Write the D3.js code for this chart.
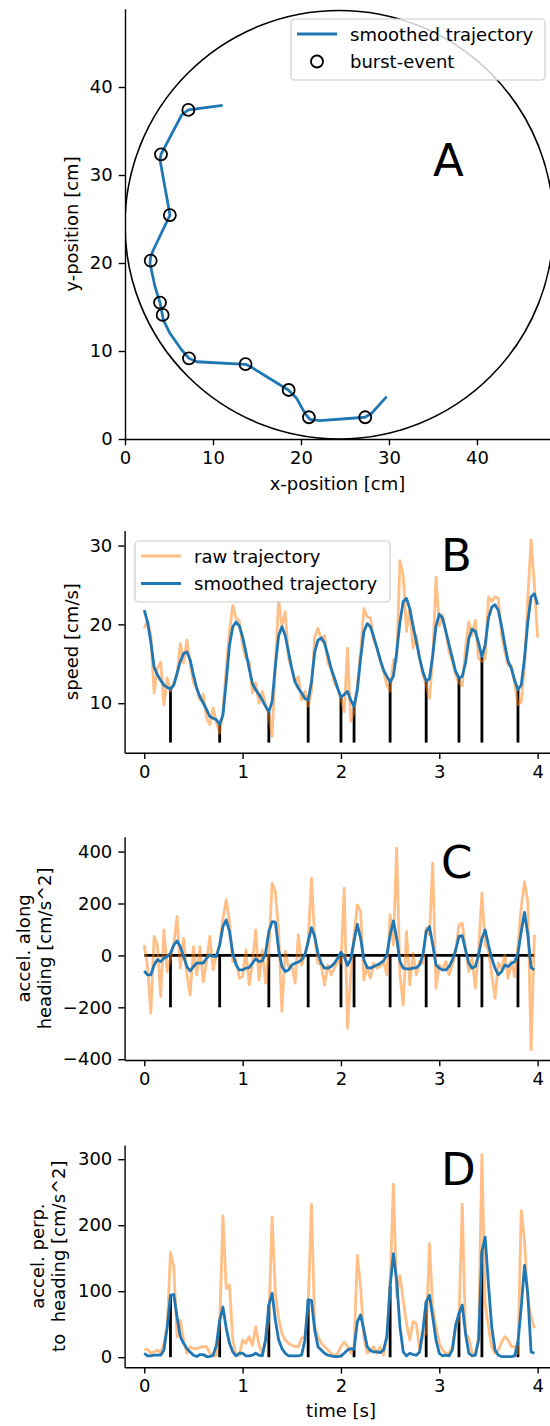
<!DOCTYPE html>
<html>
<head>
<meta charset="utf-8">
<script src="https://cdn.jsdelivr.net/npm/d3@7"></script>
<style>
  body { margin: 0; background: #fff; }
  svg text { font-family: "DejaVu Sans", sans-serif; }
</style>
</head>
<body>
<svg id="fig" width="550" height="1426"></svg>
<script>
// ---- data ----
// panel A: smoothed trajectory in the arena [cm]
var trajX = [11.10, 7.20, 6.44, 4.09, 3.98, 5.11, 3.22, 2.92, 2.84, 3.41, 3.98, 4.36, 5.11, 6.44, 7.27, 8.15, 13.71, 14.58, 18.56, 19.51, 20.45, 21.02, 22.16, 27.27, 28.03, 29.74];
var trajY = [37.92, 37.39, 36.82, 32.35, 31.70, 25.45, 21.48, 20.72, 19.97, 17.31, 15.49, 13.52, 12.01, 10.11, 9.17, 8.78, 8.49, 8.03, 5.57, 4.62, 2.92, 2.24, 2.08, 2.47, 2.92, 4.81];
var burstX = [7.2, 4.09, 5.1, 2.92, 3.98, 4.28, 7.27, 13.7, 18.6, 20.9, 27.3];
var burstY = [37.4, 32.35, 25.45, 20.26, 15.5, 14.1, 9.17, 8.5, 5.57, 2.47, 2.47];
var arena = {cx: 24.35, cy: 24.35, r: 24.35};

// time series, sampled at 30 frames/s
var fps = 30;
var burstFrames = [8, 23, 38, 50, 60, 64, 75, 86, 96, 103, 114];

var speedRaw = [19.5, 20.5, 18.6, 11.3, 14.4, 15.2, 9.8, 13.2, 11.5, 12.6,
  13.6, 17.6, 15.1, 18.0, 15.1, 12.6, 11.9, 10.4, 11.1, 8.1,
  7.3, 9.4, 7.5, 6.2, 8.9, 14.4, 19.1, 22.4, 20.8, 20.4,
  17.4, 15.7, 15.3, 11.3, 12.6, 10.0, 11.5, 9.8, 8.5, 5.8,
  14.8, 23.1, 19.8, 21.6, 15.7, 14.4, 12.6, 13.4, 10.4, 11.5,
  9.6, 11.5, 18.4, 19.5, 18.0, 18.6, 15.1, 14.4, 12.6, 11.9,
  10.6, 8.9, 17.0, 7.7, 8.9, 12.3, 16.5, 22.0, 21.0, 20.8,
  18.0, 17.0, 15.3, 14.0, 12.3, 11.5, 15.5, 15.3, 28.1, 26.2,
  19.1, 22.0, 17.0, 18.6, 15.7, 13.6, 12.3, 10.6, 15.7, 26.0,
  19.8, 21.2, 19.1, 16.5, 15.3, 13.6, 12.6, 12.2, 17.0, 20.3,
  18.6, 20.5, 15.7, 15.3, 15.7, 23.5, 22.9, 23.5, 23.3, 18.6,
  16.5, 14.8, 14.8, 12.6, 9.8, 10.2, 14.8, 23.3, 30.7, 25.0, 18.3];
var speedSmooth = [21.8, 20.3, 17.8, 14.6, 13.6, 12.9, 12.3, 12.0, 11.8, 12.3,
  13.8, 15.3, 16.3, 16.5, 15.5, 13.6, 11.9, 10.8, 10.0, 9.2,
  8.3, 8.1, 7.9, 7.3, 8.5, 12.7, 17.4, 19.7, 20.3, 19.8,
  18.4, 16.5, 14.4, 12.5, 11.7, 11.1, 10.4, 9.6, 8.9, 10.2,
  14.8, 18.6, 19.7, 18.6, 16.5, 14.4, 12.7, 11.9, 11.3, 10.6,
  10.4, 12.7, 16.5, 18.0, 18.3, 17.6, 16.1, 14.4, 13.2, 11.9,
  10.8, 11.1, 11.5, 10.4, 9.6, 11.7, 15.7, 19.1, 20.1, 19.7,
  18.4, 17.0, 15.5, 14.2, 13.4, 12.7, 13.4, 16.5, 20.3, 22.9,
  23.3, 22.0, 19.8, 17.8, 15.7, 14.0, 12.8, 13.1, 16.1, 19.8,
  21.3, 20.8, 19.1, 17.4, 15.7, 14.0, 13.2, 13.4, 15.1, 18.2,
  19.4, 19.1, 17.6, 15.9, 17.4, 20.8, 22.2, 22.5, 21.8, 19.8,
  17.4, 15.3, 14.4, 12.9, 11.7, 12.3, 15.7, 20.3, 23.5, 23.9, 22.5];

var alongRaw = [40, -43, -222, 73, 40, -159, 98, -62, -11, 40,
  150, -49, 66, -75, -152, 34, -75, 34, -101, -24,
  73, -56, 2, 40, 143, 214, 130, -24, -17, -88,
  -82, 21, -114, -30, 98, -94, 21, -107, 21, 278,
  246, 92, -216, 15, -43, -37, -107, 79, -37, 2,
  53, 297, 66, -30, -37, -114, -37, -75, -49, -24,
  -30, 259, -281, -75, 79, 195, 169, -94, -43, -88,
  -30, -49, -43, -24, -75, 156, 40, 413, -75, -191,
  92, -114, 8, -75, -24, -30, 105, 79, 355, -126,
  -37, -56, -24, -75, -37, 15, 118, 124, 28, -62,
  -11, -126, 21, 240, 40, 21, -75, -165, -30, -49,
  2, -88, -24, -82, 40, 188, 284, 207, -364, 79];
var alongSmooth = [-60, -75, -75, -37, -17, -24, -11, -4, 8, 40,
  56, 34, -4, -43, -60, -43, -30, -30, -30, -11,
  2, -4, -4, 40, 111, 137, 92, 8, -37, -56,
  -56, -49, -47, -30, -13, -24, -21, 8, 92, 130,
  128, 21, -43, -62, -56, -37, -30, -26, -17, 2,
  53, 107, 73, 8, -30, -49, -49, -43, -30, -11,
  12, -4, -39, -13, 56, 120, 66, -17, -47, -49,
  -43, -37, -30, -21, 2, 79, 133, 66, -24, -49,
  -52, -52, -49, -47, -37, 2, 92, 111, 40, -37,
  -49, -56, -56, -43, -17, 21, 73, 76, 21, -30,
  -49, -43, 2, 66, 98, 40, -11, -49, -75, -62,
  -37, -43, -30, -24, 8, 92, 166, 79, -47, -56];

var perpRaw = [12, 12, 6, 8, 11, 6, 21, 46, 159, 137,
  31, 56, 26, 6, 16, 13, 13, 15, 16, 16,
  6, 1, 3, 49, 214, 104, 109, 26, 3, 3,
  26, 21, 31, 18, 46, 18, 6, 26, 56, 212,
  96, 59, 36, 26, 21, 18, 16, 16, 29, 31,
  76, 232, 46, 31, 21, 16, 11, 6, 2, 6,
  16, 23, 16, 6, 16, 154, 106, 31, 6, 11,
  16, 6, 16, 3, 31, 111, 262, 91, 124, 86,
  51, 26, 54, 51, 11, 31, 36, 172, 76, 46,
  21, 11, 6, 6, 16, 46, 56, 232, 36, 29,
  6, 3, 31, 307, 81, 46, 16, 6, 11, 23,
  31, 26, 16, 16, 6, 222, 177, 86, 61, 44];
var perpSmooth = [6, 2, 2, 3, 3, 3, 11, 46, 94, 95,
  61, 31, 21, 13, 8, 3, 1, 4, 4, 1,
  1, 3, 18, 56, 76, 44, 21, 8, 2, 6,
  6, 2, 2, 3, 6, 3, 2, 26, 79, 97,
  56, 26, 13, 6, 2, 2, 2, 2, 3, 26,
  87, 86, 41, 16, 11, 6, 3, 2, 1, 1,
  2, 6, 11, 13, 12, 54, 64, 41, 16, 10,
  8, 8, 7, 11, 31, 107, 157, 116, 46, 8,
  2, 6, 4, 3, 8, 41, 84, 94, 61, 26,
  6, 2, 3, 2, 11, 49, 66, 79, 36, 6,
  2, 3, 26, 160, 182, 110, 46, 11, 3, 1,
  1, 1, 1, 2, 23, 76, 139, 96, 8, 6];

var xTicksA = [0, 10, 20, 30, 40];
var yTicksA = [0, 10, 20, 30, 40];
var timeTicks = [0, 1, 2, 3, 4];
var speedTicks = [10, 20, 30];
var alongTicks = [-400, -200, 0, 200, 400];
var perpTicks = [0, 100, 200, 300];

// ---- drawing ----
var BLUE = "#1f77b4", ORANGE = "#ff7f0e", FS = 18, LW = 2.8;
var svg = d3.select("#fig");

function styleAxis(g) {
  g.attr("font-size", FS).attr("font-family", "DejaVu Sans, sans-serif");
  g.select(".domain").attr("stroke", "#000").attr("stroke-width", 1.4);
  g.selectAll(".tick line").attr("stroke", "#000").attr("stroke-width", 1.4);
  g.selectAll(".tick text").attr("fill", "#000");
}

function yLabel(lines, xs, yc) {
  lines.forEach(function (s, k) {
    svg.append("text")
      .attr("transform", "translate(" + xs[k] + "," + yc + ") rotate(-90)")
      .attr("text-anchor", "middle").attr("font-size", FS)
      .style("white-space", "pre")
      .text(s);
  });
}

function legend(x, y, w, h, items) {
  var g = svg.append("g");
  g.append("rect").attr("x", x).attr("y", y).attr("width", w).attr("height", h)
    .attr("rx", 4).attr("fill", "#fff").attr("fill-opacity", 0.8)
    .attr("stroke", "#cccccc").attr("stroke-width", 1.2);
  items.forEach(function (it, k) {
    var cy = y + 15 + k * 27.5;
    if (it.type === "line") {
      g.append("line").attr("x1", x + 6).attr("x2", x + 46).attr("y1", cy).attr("y2", cy)
        .attr("stroke", it.color).attr("stroke-width", LW).attr("stroke-opacity", it.alpha || 1);
    } else {
      g.append("circle").attr("cx", x + 26).attr("cy", cy).attr("r", 6)
        .attr("fill", "none").attr("stroke", "#000").attr("stroke-width", 1.8);
    }
    g.append("text").attr("x", x + 59).attr("y", cy + 6.5).attr("font-size", FS).text(it.label);
  });
}

function letter(s, x, y) {
  svg.append("text").attr("x", x).attr("y", y).attr("font-size", 45).text(s);
}

// Panel A
var xA = d3.scaleLinear().domain([0, 48.3]).range([125, 550]);
var yA = d3.scaleLinear().domain([0, 48.9]).range([439, 8.7]);

svg.append("clipPath").attr("id", "clipA").append("rect")
  .attr("x", 125).attr("y", 8.7).attr("width", 425).attr("height", 430.3);

svg.append("ellipse")
  .attr("clip-path", "url(#clipA)")
  .attr("cx", xA(arena.cx)).attr("cy", yA(arena.cy))
  .attr("rx", xA(arena.r) - xA(0)).attr("ry", yA(0) - yA(arena.r))
  .attr("fill", "none").attr("stroke", "#000").attr("stroke-width", 1.6);

svg.append("path")
  .datum(d3.range(trajX.length))
  .attr("fill", "none").attr("stroke", BLUE).attr("stroke-width", LW)
  .attr("stroke-linejoin", "round")
  .attr("d", d3.line().x(function (i) { return xA(trajX[i]); }).y(function (i) { return yA(trajY[i]); }));

svg.append("g").selectAll("circle").data(d3.range(burstX.length)).enter().append("circle")
  .attr("cx", function (i) { return xA(burstX[i]); })
  .attr("cy", function (i) { return yA(burstY[i]); })
  .attr("r", 6).attr("fill", "none").attr("stroke", "#000").attr("stroke-width", 1.8);

svg.append("g").attr("transform", "translate(0,439)")
  .call(d3.axisBottom(xA).tickValues(xTicksA).tickFormat(d3.format("d")).tickSize(6.3).tickPadding(6).tickSizeOuter(0))
  .call(styleAxis);
svg.append("g").attr("transform", "translate(125,0)")
  .call(d3.axisLeft(yA).tickValues(yTicksA).tickFormat(d3.format("d")).tickSize(6.3).tickPadding(6).tickSizeOuter(0))
  .call(styleAxis);

svg.append("text").attr("x", 337.5).attr("y", 490).attr("text-anchor", "middle")
  .attr("font-size", FS).text("x-position [cm]");
yLabel(["y-position [cm]"], [78], 224);
letter("A", 433, 176);
legend(291, 19, 254, 61, [
  {type: "line", color: BLUE, label: "smoothed trajectory"},
  {type: "marker", label: "burst-event"}
]);

// time panels
var xT = d3.scaleLinear().domain([-0.2, 4.2]).range([124.6, 557.3]);
function tOf(i) { return i / fps; }

function timePanel(c) {
  var y = d3.scaleLinear().domain(c.yDomain).range(c.yRange);
  var g = svg.append("g");

  if (c.zeroLine) {
    g.append("line").attr("x1", xT(0)).attr("x2", xT(tOf(c.smooth.length - 1)))
      .attr("y1", y(0)).attr("y2", y(0)).attr("stroke", "#000").attr("stroke-width", LW);
  }
  g.selectAll("line.burst").data(burstFrames).enter().append("line")
    .attr("class", "burst")
    .attr("x1", function (f) { return xT(tOf(f)); })
    .attr("x2", function (f) { return xT(tOf(f)); })
    .attr("y1", function (f) { return y(c.burstFrom(f)); })
    .attr("y2", function (f) { return y(c.burstTo(f)); })
    .attr("stroke", "#000").attr("stroke-width", LW);

  var line = d3.line().x(function (d, i) { return xT(tOf(i)); }).y(function (d) { return y(d); });
  g.append("path").datum(c.raw).attr("fill", "none").attr("stroke", ORANGE)
    .attr("stroke-opacity", 0.5).attr("stroke-width", LW).attr("stroke-linejoin", "round").attr("d", line);
  g.append("path").datum(c.smooth).attr("fill", "none").attr("stroke", BLUE)
    .attr("stroke-width", LW).attr("stroke-linejoin", "round").attr("d", line);

  svg.append("g").attr("transform", "translate(0," + c.yRange[0] + ")")
    .call(d3.axisBottom(xT).tickValues(timeTicks).tickFormat(d3.format("d")).tickSize(6.3).tickPadding(6).tickSizeOuter(0))
    .call(styleAxis);
  svg.append("g").attr("transform", "translate(124.6,0)")
    .call(d3.axisLeft(y).tickValues(c.yTicks).tickFormat(d3.format("d")).tickSize(6.3).tickPadding(6).tickSizeOuter(0))
    .call(styleAxis);

  yLabel(c.label, c.labelX, (c.yRange[0] + c.yRange[1]) / 2);
  letter(c.letter, 441, c.letterY);
}

timePanel({
  raw: speedRaw, smooth: speedSmooth,
  yDomain: [3.72, 31.9], yRange: [752.7, 530.6], yTicks: speedTicks,
  burstFrom: function () { return 5.0; },
  burstTo: function (f) { return speedSmooth[f]; },
  label: ["speed [cm/s]"], labelX: [78], letter: "B", letterY: 571
});
legend(135, 541, 255, 61, [
  {type: "line", color: ORANGE, alpha: 0.5, label: "raw trajectory"},
  {type: "line", color: BLUE, label: "smoothed trajectory"}
]);

timePanel({
  raw: alongRaw, smooth: alongSmooth, zeroLine: true,
  yDomain: [-403, 457], yRange: [1060, 836.8], yTicks: alongTicks,
  burstFrom: function () { return -200; },
  burstTo: function () { return 0; },
  label: ["accel. along", "heading [cm/s^2]"], labelX: [30, 51], letter: "C", letterY: 878
});

timePanel({
  raw: perpRaw, smooth: perpSmooth,
  yDomain: [-15.3, 321.5], yRange: [1367.3, 1145.0], yTicks: perpTicks,
  burstFrom: function () { return 0; },
  burstTo: function (f) { return perpSmooth[f]; },
  label: ["accel. perp.", "to  heading [cm/s^2]"], labelX: [44, 65], letter: "D", letterY: 1185
});

svg.append("text").attr("x", 341).attr("y", 1417).attr("text-anchor", "middle")
  .attr("font-size", FS).text("time [s]");
</script>
</body>
</html>
